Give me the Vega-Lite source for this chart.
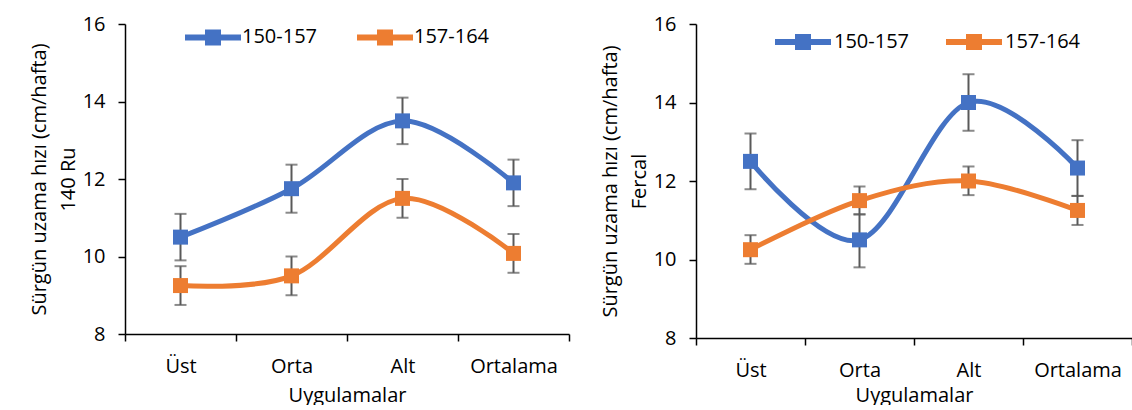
{
  "$schema": "https://vega.github.io/schema/vega-lite/v6.json",
  "padding": {"left": 29, "top": 6, "right": 0, "bottom": 0},
  "spacing": 30,
  "background": "white",
  "config": {
    "font": "Open Sans",
    "view": {"stroke": null},
    "axis": {
      "domainColor": "#000000", "domainWidth": 1.5,
      "tickColor": "#000000", "tickWidth": 1.5, "tickSize": 7,
      "labelFont": "Open Sans", "labelFontSize": 20, "labelColor": "#000000",
      "titleFont": "Open Sans", "titleFontSize": 20, "titleFontWeight": "normal", "titleColor": "#000000",
      "grid": false
    },
    "axisX": {"labelAngle": 0, "labelPadding": 15, "tickBand": "extent"},
    "axisY": {"labelPadding": 13, "titlePadding": 4, "titleLineHeight": 29},
    "legend": {
      "orient": "none", "direction": "horizontal",
      "symbolStrokeWidth": 6, "symbolOpacity": 1,
      "labelFont": "Open Sans", "labelFontSize": 20, "labelColor": "#000000"
    }
  },
  "data": {"values": [
    {"panel": "A", "cat": "Üst", "series": "150-157", "val": 10.5, "lo": 9.9, "hi": 11.1},
    {"panel": "A", "cat": "Orta", "series": "150-157", "val": 11.75, "lo": 11.13, "hi": 12.37},
    {"panel": "A", "cat": "Alt", "series": "150-157", "val": 13.5, "lo": 12.9, "hi": 14.1},
    {"panel": "A", "cat": "Ortalama", "series": "150-157", "val": 11.9, "lo": 11.3, "hi": 12.5},
    {"panel": "A", "cat": "Üst", "series": "157-164", "val": 9.25, "lo": 8.75, "hi": 9.75},
    {"panel": "A", "cat": "Orta", "series": "157-164", "val": 9.5, "lo": 9.0, "hi": 10.0},
    {"panel": "A", "cat": "Alt", "series": "157-164", "val": 11.5, "lo": 11.0, "hi": 12.0},
    {"panel": "A", "cat": "Ortalama", "series": "157-164", "val": 10.08, "lo": 9.58, "hi": 10.58},
    {"panel": "B", "cat": "Üst", "series": "150-157", "val": 12.5, "lo": 11.79, "hi": 13.21},
    {"panel": "B", "cat": "Orta", "series": "150-157", "val": 10.5, "lo": 9.8, "hi": 11.15},
    {"panel": "B", "cat": "Alt", "series": "150-157", "val": 14.0, "lo": 13.28, "hi": 14.72},
    {"panel": "B", "cat": "Ortalama", "series": "150-157", "val": 12.33, "lo": 11.62, "hi": 13.04},
    {"panel": "B", "cat": "Üst", "series": "157-164", "val": 10.25, "lo": 9.89, "hi": 10.62},
    {"panel": "B", "cat": "Orta", "series": "157-164", "val": 11.5, "lo": 11.15, "hi": 11.86},
    {"panel": "B", "cat": "Alt", "series": "157-164", "val": 12.0, "lo": 11.64, "hi": 12.37},
    {"panel": "B", "cat": "Ortalama", "series": "157-164", "val": 11.25, "lo": 10.88, "hi": 11.62}
  ]},
  "hconcat": [
    {
      "width": 444, "height": 310,
      "transform": [{"filter": "datum.panel == 'A'"}],
      "encoding": {
        "x": {"field": "cat", "type": "nominal", "sort": ["Üst", "Orta", "Alt", "Ortalama"],
              "scale": {"type": "band", "paddingInner": 0, "paddingOuter": 0},
              "axis": {"titlePadding": 9}, "title": "Uygulamalar"}
      },
      "layer": [
        {"mark": {"type": "rule", "color": "#595959", "strokeWidth": 2},
         "encoding": {"y": {"field": "lo", "type": "quantitative", "scale": {"domain": [8, 16]}, "axis": {"values": [8, 10, 12, 14, 16]}, "title": ["Sürgün uzama hızı (cm/hafta)", "140 Ru"]},
                      "y2": {"field": "hi"}}},
        {"mark": {"type": "tick", "color": "#595959", "thickness": 2, "size": 12},
         "encoding": {"y": {"field": "lo", "type": "quantitative", "title": ["Sürgün uzama hızı (cm/hafta)", "140 Ru"]}}},
        {"mark": {"type": "tick", "color": "#595959", "thickness": 2, "size": 12},
         "encoding": {"y": {"field": "hi", "type": "quantitative", "title": ["Sürgün uzama hızı (cm/hafta)", "140 Ru"]}}},
        {"mark": {"type": "line", "interpolate": "cardinal", "tension": 0, "strokeWidth": 5},
         "encoding": {"y": {"field": "val", "type": "quantitative", "title": ["Sürgün uzama hızı (cm/hafta)", "140 Ru"]},
                      "color": {"field": "series", "type": "nominal", "scale": {"domain": ["150-157", "157-164"], "range": ["#4472C4", "#ED7D31"]},
                                "legend": {"legendX": 57, "legendY": -18, "title": null,
                                           "symbolType": "M-1,0H1M-0.1786,-0.1786H0.1786V0.1786H-0.1786Z",
                                           "symbolSize": 3136, "labelOffset": -2, "columnPadding": 27}}}},
        {"mark": {"type": "square", "filled": true, "size": 225, "opacity": 1},
         "encoding": {"y": {"field": "val", "type": "quantitative", "title": ["Sürgün uzama hızı (cm/hafta)", "140 Ru"]},
                      "color": {"field": "series", "type": "nominal", "scale": {"domain": ["150-157", "157-164"], "range": ["#4472C4", "#ED7D31"]},
                                "legend": {"legendX": 57, "legendY": -18, "title": null,
                                           "symbolType": "M-1,0H1M-0.1786,-0.1786H0.1786V0.1786H-0.1786Z",
                                           "symbolSize": 3136, "labelOffset": -2, "columnPadding": 27}}}}
      ]
    },
    {
      "width": 436, "height": 314,
      "transform": [{"filter": "datum.panel == 'B'"}],
      "encoding": {
        "x": {"field": "cat", "type": "nominal", "sort": ["Üst", "Orta", "Alt", "Ortalama"],
              "scale": {"type": "band", "paddingInner": 0, "paddingOuter": 0},
              "axis": {"titlePadding": 5}, "title": "Uygulamalar"}
      },
      "layer": [
        {"mark": {"type": "rule", "color": "#595959", "strokeWidth": 2},
         "encoding": {"y": {"field": "lo", "type": "quantitative", "scale": {"domain": [8, 16]}, "axis": {"values": [8, 10, 12, 14, 16]}, "title": ["Sürgün uzama hızı (cm/hafta)", "Fercal"]},
                      "y2": {"field": "hi"}}},
        {"mark": {"type": "tick", "color": "#595959", "thickness": 2, "size": 12},
         "encoding": {"y": {"field": "lo", "type": "quantitative", "title": ["Sürgün uzama hızı (cm/hafta)", "Fercal"]}}},
        {"mark": {"type": "tick", "color": "#595959", "thickness": 2, "size": 12},
         "encoding": {"y": {"field": "hi", "type": "quantitative", "title": ["Sürgün uzama hızı (cm/hafta)", "Fercal"]}}},
        {"mark": {"type": "line", "interpolate": "cardinal", "tension": 0, "strokeWidth": 5},
         "encoding": {"y": {"field": "val", "type": "quantitative", "title": ["Sürgün uzama hızı (cm/hafta)", "Fercal"]},
                      "color": {"field": "series", "type": "nominal", "scale": {"domain": ["150-157", "157-164"], "range": ["#4472C4", "#ED7D31"]},
                                "legend": {"legendX": 72, "legendY": -17, "title": null,
                                           "symbolType": "M-0.875,0H0.875M-0.156,-0.156H0.156V0.156H-0.156Z",
                                           "symbolSize": 4096, "labelOffset": -4, "columnPadding": 24}}}},
        {"mark": {"type": "square", "filled": true, "size": 225, "opacity": 1},
         "encoding": {"y": {"field": "val", "type": "quantitative", "title": ["Sürgün uzama hızı (cm/hafta)", "Fercal"]},
                      "color": {"field": "series", "type": "nominal", "scale": {"domain": ["150-157", "157-164"], "range": ["#4472C4", "#ED7D31"]},
                                "legend": {"legendX": 72, "legendY": -17, "title": null,
                                           "symbolType": "M-0.875,0H0.875M-0.156,-0.156H0.156V0.156H-0.156Z",
                                           "symbolSize": 4096, "labelOffset": -4, "columnPadding": 24}}}}
      ]
    }
  ],
  "resolve": {"scale": {"color": "independent", "y": "independent", "x": "independent"}, "legend": {"color": "independent"}}
}
